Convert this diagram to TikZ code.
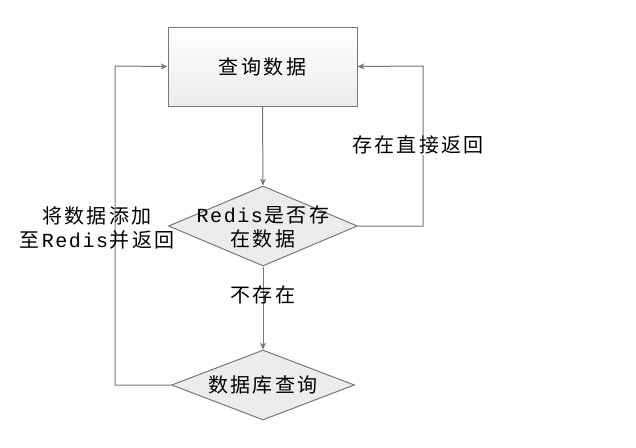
\documentclass[tikz,border=0pt]{standalone}
\usepackage{fontspec}
\setmainfont{Noto Sans CJK SC}[LetterSpace=12]
\setmonofont{Liberation Mono}[LetterSpace=8]
\usetikzlibrary{shapes.geometric,arrows.meta}
\definecolor{edge}{RGB}{120,120,120}
\definecolor{boxfill}{RGB}{236,236,236}
\tikzset{
  flow/.style={draw=edge,line width=1pt,-{Stealth[length=7pt,width=6pt]}},
  rbox/.style={draw=edge,line width=1pt,top color=white,bottom color=boxfill,minimum width=189pt,minimum height=79pt,inner sep=0pt},
  dia/.style={diamond,draw=edge,line width=1pt,fill=boxfill,inner sep=0pt,aspect=2.3},
  lbl/.style={font=\fontsize{20}{24}\selectfont,align=center,inner sep=1pt},
}
\begin{document}
\begin{tikzpicture}[x=1pt,y=-1pt]
\useasboundingbox (0,0) rectangle (636,447);
\node[rbox] (q) at (262.5,66.5) {\fontsize{20}{22}\selectfont 查询数据};
\node[dia,minimum width=189pt,minimum height=80pt] (r) at (263,226) {};
\node[lbl] (rt) at (263,227) {\texttt{Redis}是否存\\在数据};
\node[dia,minimum width=183pt,minimum height=70pt] (d) at (263,385) {\fontsize{20}{22}\selectfont 数据库查询};
\coordinate (rc) at (423,226);
\coordinate (rt2) at (423,66);
\coordinate (lc) at (115,385);
\coordinate (lt) at (115,66);
\draw[flow] (q.south) -- (r.north);
\draw[flow] (r.south) -- (d.north);
\draw[flow] (r.east) -- (rc) -- (rt2) -- (q.east);
\draw[flow] (d.west) -- (lc) -- (lt) -- (q.west);
\node[lbl,fill=white] (l1) at (418,145) {存在直接返回};
\node[lbl] (l2) at (263,295) {不存在};
\node[lbl] (l3) at (97,228) {将数据添加\\至\texttt{Redis}并返回};
\end{tikzpicture}
\end{document}
